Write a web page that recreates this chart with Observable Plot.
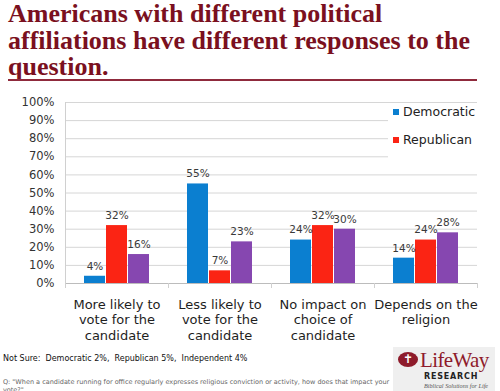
<!DOCTYPE html>
<html>
<head>
<meta charset="utf-8">
<script src="https://cdn.jsdelivr.net/npm/d3@7"></script>
<script src="https://cdn.jsdelivr.net/npm/@observablehq/plot@0.6"></script>
<style>
  html, body { margin: 0; padding: 0; background: #fff; }
  body { width: 500px; height: 391px; position: relative; overflow: hidden; font-family: "DejaVu Sans", sans-serif; }
  #title { position: absolute; left: 8px; top: 1px; width: 490px; font-family: "Liberation Serif", "Times New Roman", serif; font-weight: bold; font-size: 26px; line-height: 26.5px; color: #7a1020; }
  #rule { position: absolute; left: 8px; top: 79px; width: 469px; height: 1.5px; background: #8f2a3c; }
  #chart { position: absolute; left: 0; top: 90px; }
  #legend { position: absolute; left: 388px; top: 104px; width: 92px; height: 56px; background: #fff; }
  .li { position: absolute; left: 5px; font-size: 12.5px; color: #222; white-space: nowrap; }
  .sw { display: inline-block; width: 6px; height: 6px; margin-right: 4px; vertical-align: 1px; }
  #notsure { position: absolute; left: 3px; top: 354px; font-size: 8px; color: #111; white-space: nowrap; }
  #q { position: absolute; left: 3px; top: 378px; font-size: 6.5px; line-height: 8px; color: #666; white-space: nowrap; }
  #logo { position: absolute; left: 393px; top: 347px; width: 102px; height: 44px; background: #efefef; overflow: hidden; }
  #logo .mark { position: absolute; left: 5px; top: 5px; width: 20px; height: 15px; border-radius: 50%; background: #8e1b2b; color: #fff; font-size: 12px; line-height: 15px; text-align: center; }
  #logo .name { position: absolute; left: 27px; top: 1px; font-family: "Liberation Serif", serif; font-size: 21px; color: #8e1b2b; letter-spacing: -0.6px; }
  #logo .res { position: absolute; left: 31px; top: 25px; font-family: "DejaVu Sans", sans-serif; font-weight: bold; font-size: 8px; letter-spacing: 0.8px; color: #222; }
  #logo .tag { position: absolute; left: 31px; top: 35px; font-family: "Liberation Serif", serif; font-style: italic; font-size: 6.2px; color: #555; }
</style>
</head>
<body>
<div id="title">Americans with different political affiliations have different responses to the question.</div>
<div id="rule"></div>
<div id="chart"></div>
<div id="legend"></div>
<div id="notsure">Not Sure:&nbsp; Democratic 2%,&nbsp; Republican 5%,&nbsp; Independent 4%</div>
<div id="q">Q: "When a candidate running for office regularly expresses religious conviction or activity, how does that impact your<br>vote?"</div>
<div id="logo"><div class="mark">✝</div><div class="name">LifeWay</div><div class="res">RESEARCH</div><div class="tag">Biblical Solutions for Life</div></div>
<script>
const categories = ["More likely", "Less likely", "No impact", "Depends"];
const categoryLabels = ["More likely to\nvote for the\ncandidate", "Less likely to\nvote for the\ncandidate", "No impact on\nchoice of\ncandidate", "Depends on the\nreligion"];
const parties = ["Democratic", "Republican", "Independent"];
const legendParties = ["Democratic", "Republican"];
const colors = ["#0b7fd0", "#fb2414", "#8647b0"];
const democratic = [4, 55, 24, 14];
const republican = [32, 7, 32, 24];
const independent = [16, 23, 30, 28];
const yTicks = [0, 10, 20, 30, 40, 50, 60, 70, 80, 90, 100];

const series = [democratic, republican, independent];
const rows = [];
categories.forEach((c, i) => parties.forEach((p, j) => rows.push({category: c, party: p, value: series[j][i]})));

const chart = Plot.plot({
  width: 500,
  height: 262,
  marginTop: 12,
  marginBottom: 69,
  marginLeft: 64,
  marginRight: 22,
  style: {fontFamily: "DejaVu Sans", background: "transparent", overflow: "visible"},
  fx: {domain: categories, padding: 0, axis: null},
  x: {domain: parties, paddingInner: 0.03, paddingOuter: 0.79, axis: null},
  y: {domain: [0, 100], axis: null},
  color: {domain: parties, range: colors},
  marks: [
    Plot.ruleY(yTicks.slice(1), {stroke: "#d6d6d6", strokeWidth: 1}),
    Plot.ruleY([0], {stroke: "#bcbcbc", strokeWidth: 1}),
    Plot.barY(rows, {fx: "category", x: "party", y: "value", fill: "party"}),
    Plot.text(rows, {fx: "category", x: "party", y: "value", text: d => d.value + "%", dy: -10, fontSize: 10.5, fill: "#3a3a3a"}),
    Plot.text(categories, {fx: d => d, text: (d, i) => categoryLabels[i], frameAnchor: "bottom", lineAnchor: "top", dy: 14, fontSize: 13, lineHeight: 1.2, fill: "#1e1e1e"}),
    Plot.axisY({ticks: yTicks, tickFormat: d => d + "%", tickSize: 0, tickPadding: 11, fontSize: 11.5, fill: "#333", anchor: "left", label: null})
  ]
});
document.getElementById("chart").appendChild(chart);

// axis decorations: left axis line and category boundary ticks
const svg = d3.select(chart);
const ys = chart.scale("y");
const fxs = chart.scale("fx");
const y0 = ys.apply(0), y1 = ys.apply(100);
const left = fxs.apply(categories[0]);
const bw = fxs.bandwidth;
svg.append("line").attr("x1", left + 0.5).attr("x2", left + 0.5).attr("y1", y1).attr("y2", y0 + 5).attr("stroke", "#d0d0d0");
categories.forEach((c, i) => {
  const x = fxs.apply(c) + bw + 0.5;
  svg.append("line").attr("x1", x).attr("x2", x).attr("y1", y0).attr("y2", y0 + 5).attr("stroke", "#d0d0d0");
});

// legend
const lg = d3.select("#legend");
legendParties.forEach((p, i) => {
  const it = lg.append("div").attr("class", "li").style("top", (i * 28) + "px");
  it.append("span").attr("class", "sw").style("background", colors[parties.indexOf(p)]);
  it.append("span").text(p);
});
</script>
</body>
</html>
